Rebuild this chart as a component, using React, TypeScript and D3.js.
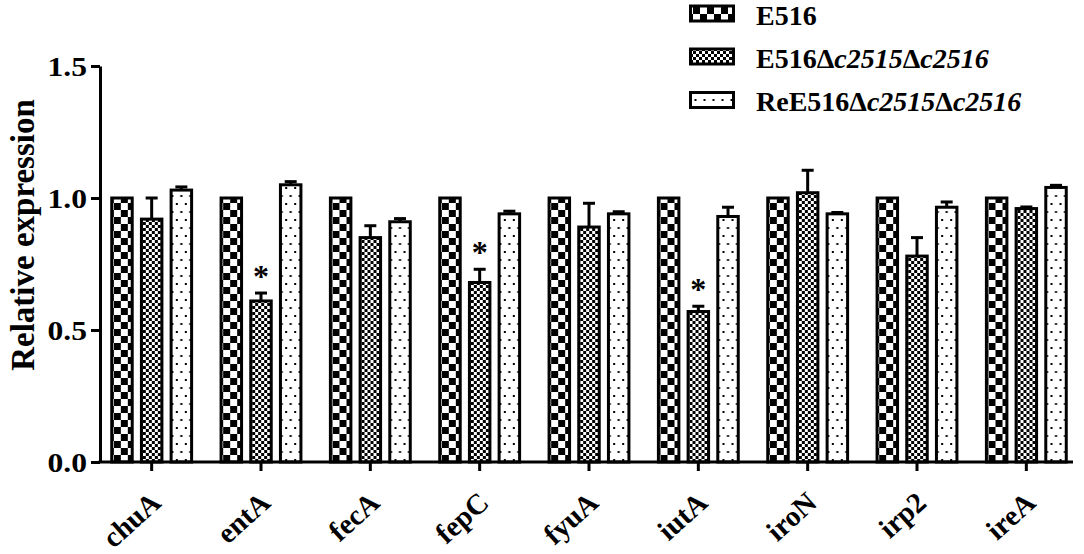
import { useEffect, useRef } from 'react';
import * as d3 from 'd3';

const genes = ['chuA', 'entA', 'fecA', 'fepC', 'fyuA', 'iutA', 'iroN', 'irp2', 'ireA'];
const seriesKeys = ['wt', 'mutant', 'rescue'];

const wtValues = [1, 1, 1, 1, 1, 1, 1, 1, 1];
const wtErrors = [0, 0, 0, 0, 0, 0, 0, 0, 0];
const mutantValues = [0.92, 0.61, 0.85, 0.68, 0.89, 0.57, 1.02, 0.78, 0.96];
const mutantErrors = [0.08, 0.03, 0.045, 0.05, 0.09, 0.02, 0.085, 0.07, 0.006];
const rescueValues = [1.03, 1.05, 0.91, 0.94, 0.94, 0.93, 0.94, 0.965, 1.04];
const rescueErrors = [0.012, 0.012, 0.012, 0.01, 0.008, 0.035, 0.005, 0.02, 0.008];
const significant = [false, true, false, true, false, true, false, false, false];

const yTicks = [0, 0.5, 1.0, 1.5];

const FONT = "'Liberation Serif', 'DejaVu Serif', serif";
// tick labels in the original look a bit wider than normal
const STRETCH = 1.17;

const App = () => {
  const svgRef = useRef<SVGSVGElement>(null);
  const width = 1084;
  const height = 554;

  useEffect(() => {
    if (!svgRef.current) return;
    const svg = d3.select(svgRef.current);
    svg.selectAll('*').remove();

    const left = 100;
    const right = 1073;
    const top = 66;
    const bottom = 462;

    // patterns
    const defs = svg.append('defs');
    const big = defs
      .append('pattern')
      .attr('id', 'bigCheck')
      .attr('patternUnits', 'userSpaceOnUse')
      .attr('width', 14)
      .attr('height', 14);
    big.append('rect').attr('width', 14).attr('height', 14).attr('fill', '#fff');
    big.append('rect').attr('width', 7).attr('height', 7).attr('fill', '#000');
    big.append('rect').attr('x', 7).attr('y', 7).attr('width', 7).attr('height', 7).attr('fill', '#000');

    const fine = defs
      .append('pattern')
      .attr('id', 'fineCheck')
      .attr('patternUnits', 'userSpaceOnUse')
      .attr('width', 6)
      .attr('height', 6);
    fine.append('rect').attr('width', 6).attr('height', 6).attr('fill', '#fff');
    fine.append('rect').attr('width', 3).attr('height', 3).attr('fill', '#000');
    fine.append('rect').attr('x', 3).attr('y', 3).attr('width', 3).attr('height', 3).attr('fill', '#000');

    const dots = defs
      .append('pattern')
      .attr('id', 'dots')
      .attr('patternUnits', 'userSpaceOnUse')
      .attr('width', 9)
      .attr('height', 16);
    dots.append('rect').attr('width', 9).attr('height', 16).attr('fill', '#fff');
    dots.append('rect').attr('x', 1.5).attr('y', 3).attr('width', 2).attr('height', 2).attr('fill', '#000');
    dots.append('rect').attr('x', 6).attr('y', 11).attr('width', 2).attr('height', 2).attr('fill', '#000');

    const fills: Record<string, string> = {
      wt: 'url(#bigCheck)',
      mutant: 'url(#fineCheck)',
      rescue: 'url(#dots)',
    };

    // scales
    const x0 = d3
      .scaleBand<string>()
      .domain(genes)
      .range([97, 1081])
      .paddingInner(0.18)
      .paddingOuter(0.09);

    const x1 = d3
      .scaleBand<string>()
      .domain(seriesKeys)
      .range([0, x0.bandwidth()])
      .paddingInner(0.31)
      .paddingOuter(0.165);

    const y = d3.scaleLinear().domain([0, 1.5]).range([bottom, top]);

    const rows = genes.map((g, i) => ({
      gene: g,
      bars: [
        { key: 'wt', value: wtValues[i], err: wtErrors[i] },
        { key: 'mutant', value: mutantValues[i], err: mutantErrors[i] },
        { key: 'rescue', value: rescueValues[i], err: rescueErrors[i] },
      ],
      sig: significant[i],
    }));

    const groups = svg
      .selectAll('g.group')
      .data(rows)
      .enter()
      .append('g')
      .attr('class', 'group')
      .attr('transform', (d) => `translate(${x0(d.gene)},0)`);

    // error bars (drawn under the bars, upper half only)
    groups
      .selectAll('g.err')
      .data((d) => d.bars.filter((b) => b.err > 0))
      .enter()
      .append('g')
      .attr('class', 'err')
      .each(function (b) {
        const cx = (x1(b.key) as number) + x1.bandwidth() / 2;
        const g = d3.select(this);
        g.append('line')
          .attr('x1', cx)
          .attr('x2', cx)
          .attr('y1', y(b.value))
          .attr('y2', y(b.value + b.err))
          .attr('stroke', '#000')
          .attr('stroke-width', 3);
        g.append('line')
          .attr('x1', cx - 6)
          .attr('x2', cx + 6)
          .attr('y1', y(b.value + b.err))
          .attr('y2', y(b.value + b.err))
          .attr('stroke', '#000')
          .attr('stroke-width', 3);
      });

    groups
      .selectAll('rect.bar')
      .data((d) => d.bars)
      .enter()
      .append('rect')
      .attr('class', 'bar')
      .attr('x', (b) => x1(b.key) as number)
      .attr('y', (b) => y(b.value))
      .attr('width', x1.bandwidth())
      .attr('height', (b) => bottom - y(b.value))
      .attr('fill', (b) => fills[b.key])
      .attr('stroke', '#000')
      .attr('stroke-width', 3);

    // significance stars
    groups
      .filter((d) => d.sig)
      .append('text')
      .attr('x', (x1('mutant') as number) + x1.bandwidth() / 2)
      .attr('y', (d) => y(d.bars[1].value + d.bars[1].err) - 6)
      .attr('text-anchor', 'middle')
      .attr('font-family', FONT)
      .attr('font-weight', 'bold')
      .attr('font-size', 32)
      .text('*');

    // y axis
    const yAxis = svg
      .append('g')
      .attr('transform', `translate(${left},0)`)
      .call(
        d3
          .axisLeft(y)
          .tickValues(yTicks)
          .tickFormat(d3.format('.1f'))
          .tickSize(9)
          .tickSizeOuter(0)
      );
    yAxis.select('.domain').attr('stroke-width', 3);
    yAxis.selectAll('.tick line').attr('stroke-width', 3);
    yAxis
      .selectAll('.tick text')
      .attr('font-family', FONT)
      .attr('font-weight', 'bold')
      .attr('font-size', 27)
      .attr('fill', '#000')
      .attr('x', null)
      .attr('dy', null)
      .attr('transform', `translate(-13,9) scale(${STRETCH},1)`);

    // x axis
    const xAxis = svg
      .append('g')
      .attr('transform', `translate(0,${bottom})`)
      .call(d3.axisBottom(x0).tickSize(9).tickSizeOuter(0));
    xAxis.select('.domain').remove();
    xAxis.selectAll('.tick line').attr('stroke-width', 3);
    xAxis
      .selectAll('.tick text')
      .attr('font-family', FONT)
      .attr('font-weight', 'bold')
      .attr('font-size', 29)
      .attr('fill', '#000')
      .attr('text-anchor', 'end')
      .attr('dy', null)
      .attr('y', null)
      .attr('x', null)
      .attr('transform', 'translate(11,43) rotate(-42)');
    svg
      .append('line')
      .attr('x1', left - 1.5)
      .attr('x2', right)
      .attr('y1', bottom)
      .attr('y2', bottom)
      .attr('stroke', '#000')
      .attr('stroke-width', 3);

    // y label
    svg
      .append('text')
      .attr('transform', `translate(34,235) rotate(-90)`)
      .attr('text-anchor', 'middle')
      .attr('font-family', FONT)
      .attr('font-weight', 'bold')
      .attr('font-size', 33)
      .text('Relative expression');

    // legend
    const legendY = [13.5, 56.5, 100];
    const legend = svg.append('g');
    seriesKeys.forEach((k, i) => {
      legend
        .append('rect')
        .attr('x', 690.5)
        .attr('y', legendY[i] - 7.5)
        .attr('width', 43)
        .attr('height', 15)
        .attr('fill', fills[k])
        .attr('stroke', '#000')
        .attr('stroke-width', 3);
      const t = legend
        .append('text')
        .attr('x', 756)
        .attr('y', legendY[i] + 11)
        .attr('font-family', FONT)
        .attr('font-weight', 'bold')
        .attr('font-size', 28);
      if (k === 'wt') {
        t.text('E516');
      } else {
        t.append('tspan').text(k === 'mutant' ? 'E516Δ' : 'ReE516Δ');
        t.append('tspan').attr('font-style', 'italic').text('c2515');
        t.append('tspan').text('Δ');
        t.append('tspan').attr('font-style', 'italic').text('c2516');
      }
    });
  }, []);

  return (
    <svg
      ref={svgRef}
      width={width}
      height={height}
      style={{ position: 'absolute', left: 0, top: 0, background: '#fff' }}
    />
  );
};

export default App;
